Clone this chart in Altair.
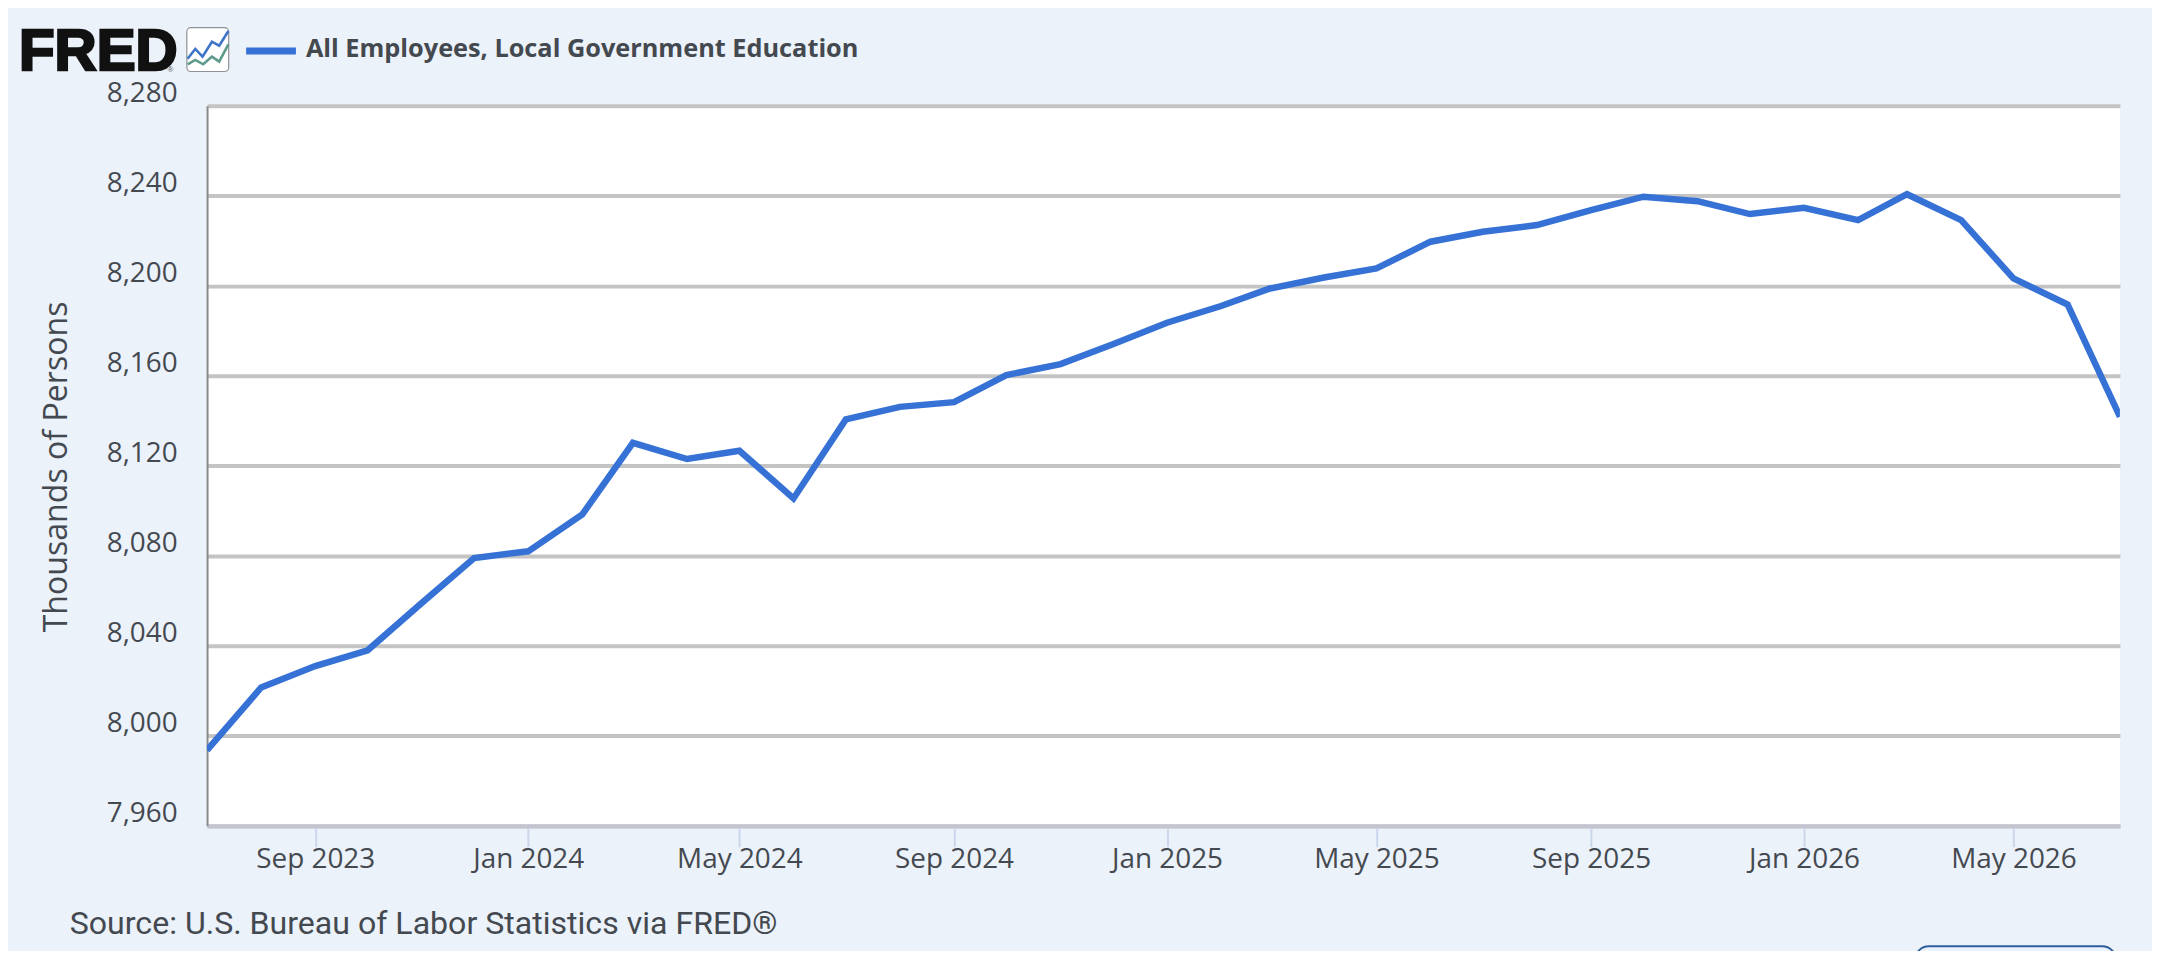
import altair as alt
import pandas as pd

months = pd.date_range("2023-07-01", "2026-07-01", freq="MS").strftime("%Y-%m-%d").tolist()
values = [7993.6, 8021.5, 8031, 8038, 8059, 8079, 8082, 8098.4, 8130.2, 8123, 8126.7, 8105.5,
          8140.6, 8146.2, 8148.3, 8160.3, 8165.2, 8174, 8183.6, 8191, 8198.8, 8203.7, 8207.7, 8219.6,
          8224, 8227, 8233.6, 8239.6, 8237.6, 8231.9, 8234.7, 8229.2, 8240.7, 8229.2, 8203.3, 8191.7, 8141.8]
y_ticks = [7960, 8000, 8040, 8080, 8120, 8160, 8200, 8240, 8280]
x_ticks = ["2023-09-01", "2024-01-01", "2024-05-01", "2024-09-01", "2025-01-01",
           "2025-05-01", "2025-09-01", "2026-01-01", "2026-05-01"]
series_name = "All Employees, Local Government Education"
y_title = "Thousands of Persons"
source_text = "Source: U.S. Bureau of Labor Statistics via FRED®"

BG = "#EBF2FA"
LINE = "#3671D6"
TEXT = "#444950"
OX, OY = 207.8, 104.4
W, H = 1920, 722.7

df = pd.DataFrame({"date": months, "value": values})


def one():
    return alt.Chart(alt.Data(values=[{"k": 1}]))


def label(text, x, y, size, font="Open Sans", weight="normal", color=TEXT, baseline="middle", **kw):
    return one().mark_text(text=text, font=font, fontSize=size, fontWeight=weight, color=color,
                           align="left", baseline=baseline, **kw).encode(
        x=alt.value(x - OX), y=alt.value(y - OY))


x_axis = alt.Axis(
    values=[alt.DateTime(year=int(d[:4]), month=int(d[5:7]), date=1, utc=True) for d in x_ticks],
    format="%b %Y", title=None, grid=False, labelFont="Open Sans", labelFontSize=28, labelColor=TEXT,
    labelPadding=-1, labelFlush=False, labelOverlap=False,
    tickSize=21, tickColor="#CCD6EB", tickWidth=2,
    domainColor="#C4C4D0", domainWidth=4)
y_axis = alt.Axis(
    values=y_ticks, format=",d", title=y_title, titleFont="Open Sans", titleFontSize=32.2,
    titleFontWeight="normal", titleColor=TEXT, titleX=-151, titleY=362, titleAngle=270,
    titleAlign="center", titleBaseline="middle",
    labelFont="Open Sans", labelFontSize=28, labelColor=TEXT, labelPadding=30, labelOffset=-12,
    labelOverlap=False, labelFlush=False,
    tickSize=0, ticks=False, grid=True, gridColor="#C4C4C4", gridWidth=4,
    domainColor="#8A8A8A", domainWidth=2)

line = alt.Chart(df).mark_line(color=LINE, strokeWidth=6.5, clip=True, strokeJoin="miter").encode(
    x=alt.X("date:T", axis=x_axis,
            scale=alt.Scale(type="utc", domain=[
                alt.DateTime(year=2023, month=7, date=1, utc=True),
                alt.DateTime(year=2026, month=7, date=1, utc=True)], nice=False)),
    y=alt.Y("value:Q", axis=y_axis, scale=alt.Scale(domain=[7960, 8280], nice=False, zero=False)),
)

legend_rule = one().mark_rule(color=LINE, strokeWidth=7).encode(
    x=alt.value(247 - OX), x2=alt.value(297 - OX), y=alt.value(49.5 - OY))
legend_text = label(series_name, 307, 47, 25.4, weight="bold")
source = label(source_text, 70, 926, 32.2, font="Roboto")
logo = label("FRED", 19, 68.5, 58.5, font="Liberation Sans", weight="bold", color="#111111",
             baseline="alphabetic", stroke="#111111", strokeWidth=2.5)
logo_r = label("®", 168, 70, 8, font="Liberation Sans", color="#555555", baseline="alphabetic")

icon_box = one().mark_rect(fill="white", stroke="#8E9298", strokeWidth=1.2, cornerRadius=4).encode(
    x=alt.value(187.5 - OX), x2=alt.value(229.5 - OX), y=alt.value(26 - OY), y2=alt.value(70 - OY))
blue_path = "M-0.91 0.42L-0.56 -0.03L-0.23 0.32L0.2 -0.36L0.53 -0.18L0.95 -0.85"
green_path = "M-0.91 0.67L-0.56 0.47L-0.2 0.67L0.2 0.32L0.53 0.55L0.95 -0.24"
icon_blue = one().mark_point(shape=blue_path, size=1936, filled=False, stroke="#3F74C8",
                             strokeWidth=2.6, opacity=1).encode(
    x=alt.value(208.3 - OX), y=alt.value(48 - OY))
icon_green = one().mark_point(shape=green_path, size=1936, filled=False, stroke="#5E9A8C",
                              strokeWidth=2.6, opacity=1).encode(
    x=alt.value(208.3 - OX), y=alt.value(48 - OY))
button = one().mark_rect(fill=BG, stroke="#2F5F9E", strokeWidth=2, cornerRadius=14).encode(
    x=alt.value(1922 - OX), x2=alt.value(2124 - OX), y=alt.value(948 - OY), y2=alt.value(990 - OY))

chart = alt.layer(line, legend_rule, legend_text, source, logo, logo_r, icon_box, icon_blue,
                  icon_green, button).properties(
    width=W, height=H, background=BG,
    autosize=alt.AutoSizeParams(type="none"),
    padding={"left": OX - 8, "top": OY - 8, "right": 2160 - OX - W, "bottom": 953 - OY - H - 2},
).configure_view(fill="white", stroke=None)

chart.save("out.html", embed_options={"renderer": "svg", "actions": False})
